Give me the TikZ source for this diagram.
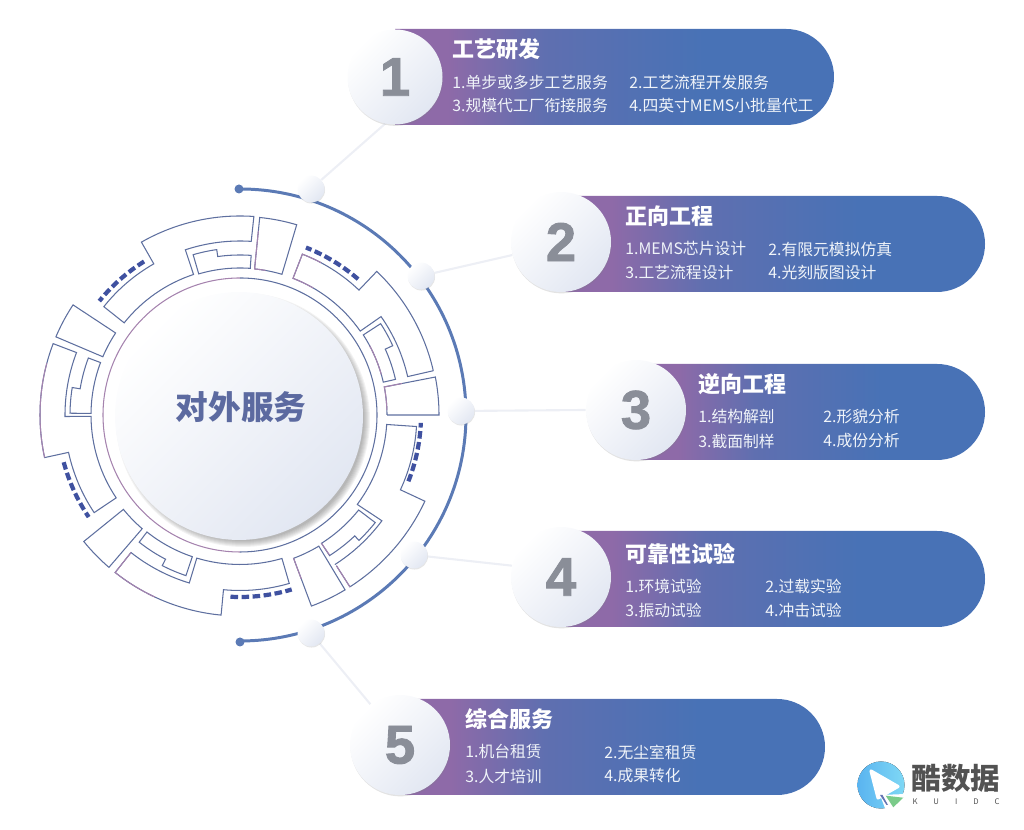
\documentclass[tikz,border=0pt]{standalone}
\usepackage{fontspec}
\setmainfont{Noto Sans CJK SC}
\newfontfamily\numfont[BoldFeatures={FakeBold=1.6}]{Liberation Sans}
\usetikzlibrary{backgrounds,shadows}
\definecolor{ringblue}{HTML}{5E6F9F}
\definecolor{ringpurple}{HTML}{A583AE}
\definecolor{dashblue}{HTML}{3F51A0}
\definecolor{arcblue}{HTML}{5B7AB5}
\definecolor{linegray}{HTML}{EDEFF5}
\definecolor{hubtext}{HTML}{5C6AA0}
\definecolor{numgray}{HTML}{8A8E98}
\definecolor{pillpurple}{HTML}{8E6AA8}
\definecolor{pillmid}{HTML}{5F6FB0}
\definecolor{pillblue}{HTML}{4772B6}
\definecolor{softblue}{HTML}{E2E7F2}
\definecolor{logoleft}{HTML}{5AB4F0}
\definecolor{logoright}{HTML}{7FD8F5}
\definecolor{logogreen}{HTML}{7BCB8A}
\pgfdeclarehorizontalshading{barshade}{100bp}{color(0bp)=(pillpurple); color(31bp)=(pillpurple); color(42bp)=(pillmid); color(60bp)=(pillblue!95!pillmid); color(100bp)=(pillblue)}
\newcommand{\ringarc}[3]{arc[start angle=#1,end angle=#2,radius=#3]}
% a bar, square on the left and round on the right: left, right, bottom
\newcommand{\drawbar}[3]{\shade[shading=barshade] (#1,#3) -- ({#2-48},#3) arc[start angle=-90,end angle=90,radius=48] -- (#1,{#3+96}) -- cycle;}
\tikzset{
  ringseg/.style={draw=ringblue,line width=.6pt,line join=miter},
  ringtint/.style={draw=ringpurple,line width=.6pt},
  ringdash/.style={draw=dashblue,line width=2.4pt,dash pattern=on 4.3pt off 2pt},
  numdisc/.style={circle,inner sep=0pt,minimum size=#1*0.02cm,top color=white,bottom color=softblue,shading angle=45,
    text=numgray,font=\numfont\fontsize{31}{31}\selectfont\bfseries,drop shadow={shadow xshift=.3pt,shadow yshift=-.8pt,opacity=.22}},
  smalldisc/.style={circle,inner sep=0pt,minimum size=.54cm,top color=white,bottom color=softblue,shading angle=45,
    drop shadow={shadow xshift=.3pt,shadow yshift=-.6pt,opacity=.2}},
  pilltitle/.style={anchor=west,inner sep=0pt,text=white,font=\fontsize{12.5}{12.5}\selectfont\bfseries},
  pillitem/.style={anchor=west,inner sep=0pt,text=white!92!pillblue,font=\fontsize{9}{9}\selectfont},
}
\begin{document}
\begin{tikzpicture}[x=0.02cm,y=0.02cm]
    \useasboundingbox (0,0) rectangle (1024,830);
    % soft shadow below the hub
    \foreach \r in {1,...,7}
        \fill[black!70,opacity=.07] (243,410) circle ({120+\r});
    \node[circle,inner sep=0pt,minimum size=4.96cm,top color=white,bottom color=softblue,shading angle=45] (hub) at (239,414) {};
    \node[inner sep=0pt,text=hubtext,font=\fontsize{18.6}{18.6}\selectfont\bfseries] (hubname) at (241,423) {对外服务};
    % the ring pieces
    \begin{scope}[shift={(240,415)}]
        \draw[ringpurple,line width=.6pt] (90:137) \ringarc{90}{270}{137};
        \draw[ringblue,line width=.6pt] (-90:137) \ringarc{-90}{90}{137};
        \draw[ringseg] (86:199) \ringarc{86}{119.7}{199} -- (119.7:174) \ringarc{119.7}{141.5}{174} -- (141.5:148)
            \ringarc{141.5}{108.3}{148} -- (108.3:174) \ringarc{108.3}{86.3}{174} -- cycle;
        \draw[ringseg] (86:147) \ringarc{86}{106.3}{147} -- (106.3:167) \ringarc{106.3}{98}{167} -- (98:160) \ringarc{98}{86}{160} -- cycle;
        \draw[ringseg] (146.6:200) \ringarc{146.6}{157}{200} -- (157:149) \ringarc{157}{146.6}{149} -- cycle;
        \draw[ringseg] (159.1:200) \ringarc{159.1}{192.3}{200} -- (192.3:175.5) \ringarc{192.3}{213.8}{175.5} -- (213.8:149)
            \ringarc{213.8}{180.5}{149} -- (180.5:175) \ringarc{180.5}{159.1}{175} -- cycle;
        \draw[ringseg] (159.4:149) \ringarc{159.4}{179.4}{149} -- (179.4:170) \ringarc{179.4}{170.7}{170} -- (170.7:162) \ringarc{170.7}{159.4}{162} -- cycle;
        \draw[ringseg] (219:150) \ringarc{219}{229.3}{150} -- (229.3:201) \ringarc{229.3}{219}{201} -- cycle;
        \draw[ringseg] (231.6:175.5) -- (231.6:201) \ringarc{231.6}{264.6}{201} -- (264.6:175.5) \ringarc{264.6}{286.3}{175.5} -- (286.3:149.5)
            \ringarc{286.3}{253.2}{149.5} -- (253.2:175.5) \ringarc{253.2}{231.6}{175.5} -- cycle;
        \draw[ringseg] (231.5:149.5) \ringarc{231.5}{251.4}{149.5} -- (251.4:169.5) \ringarc{251.4}{242.7}{169.5} -- (242.7:162.3) \ringarc{242.7}{231.6}{162.3} -- cycle;
        \draw[ringseg] (290.5:153) \ringarc{290.5}{301}{153} -- (301:204) \ringarc{301}{290.5}{204} -- cycle;
        \draw[ringseg] (302.4:152) \ringarc{302.4}{321.3}{152} -- (321.5:172.8) \ringarc{321.5}{313.5}{172.8} -- (313.5:166.7) \ringarc{313.5}{302.5}{166.7} -- cycle;
        \draw[ringseg] (302.6:179) -- (302.6:204) \ringarc{302.6}{335}{204} -- (335:177) \ringarc{335}{356.5}{175} -- (356.3:147) \ringarc{356.3}{323.3}{150} -- (323.3:177) \ringarc{323.3}{302.6}{179};
        \draw[ringseg] (0:147) -- (0:199) \ringarc{0}{11}{199} -- (11:147) \ringarc{11}{0}{147};
        \draw[ringseg] (12.9:198.3) -- (12.9:172) \ringarc{12.9}{34.9}{172} -- (34.9:146.6) \ringarc{34.9}{68.8}{146.6} -- (68.8:172.5) \ringarc{68.8}{46.4}{172.5} -- (46.4:198.3) \ringarc{46.4}{12.9}{198.3};
        \draw[ringseg] (12.9:147) \ringarc{12.9}{33}{147} -- (33:167.7) \ringarc{33}{24.4}{167.7} -- (24.4:159.5) \ringarc{24.4}{12.9}{159.5} -- cycle;
        \draw[ringseg] (73.4:198.5) \ringarc{73.4}{84.3}{198.5} -- (84.3:146.8) \ringarc{84.3}{73.4}{146.8} -- cycle;
        % the purple ends of the pieces
        \draw[ringtint] (165:200) \ringarc{165}{192.3}{200};
        \draw[ringtint] (84.3:185) -- (84.3:146.8) \ringarc{84.3}{80}{146.8};
        \draw[ringtint] (60:146.6) \ringarc{60}{68.8}{146.6} -- (68.8:172.5) \ringarc{68.8}{62}{172.5};
        \draw[ringtint] (231.6:175.5) -- (231.6:201) \ringarc{231.6}{245}{201};
        \draw[ringtint] (290.5:153) -- (290.5:175);
        \draw[ringtint] (302.4:152) -- (302.6:166);
        \draw[ringtint] (302.6:179) -- (302.6:204);
        \draw[ringtint] (2:147) \ringarc{2}{11}{147} -- (11:165);
        \draw[ringtint] (16:147) \ringarc{16}{28}{147};
        % the dashed marks
        \draw[ringdash] (122:181) \ringarc{122}{141}{181};
        \draw[ringdash] (195:182.5) \ringarc{195}{214}{182.5};
        \draw[ringdash] (267:182) \ringarc{267}{286.5}{182};
        \draw[ringdash] (338.5:181) \ringarc{338.5}{357.5}{181};
        \draw[ringdash] (49:180) \ringarc{49}{68.5}{180};
        % the big arc
        \draw[arcblue,line width=1.7pt] (90:226) \ringarc{90}{-90}{226};
    \end{scope}
    \node[circle,fill=arcblue,inner sep=0pt,minimum size=.18cm] (arcstart) at (239,641) {};
    \node[circle,fill=arcblue,inner sep=0pt,minimum size=.18cm] (arcend) at (240,188) {};
    % the bars
    \drawbar{395}{834}{705}
    \drawbar{561}{985}{538}
    \drawbar{636}{985}{370}
    \drawbar{561}{985}{203}
    \drawbar{400}{825}{35}
    % the numbers
    \node[numdisc=95] (num1) at (395,753) {1};
    \node[numdisc=100] (num2) at (561,588) {2};
    \node[numdisc=100] (num3) at (636,420) {3};
    \node[numdisc=100] (num4) at (561,253) {4};
    \node[numdisc=100] (num5) at (400,85) {5};
    % the small discs on the arc
    \node[smalldisc] (dot1) at (311,641) {};
    \node[smalldisc] (dot2) at (421,554) {};
    \node[smalldisc] (dot3) at (461,419) {};
    \node[smalldisc] (dot4) at (414,275) {};
    \node[smalldisc] (dot5) at (311,197) {};
    % the links
    \begin{scope}[on background layer]
        \draw[linegray,line width=1.2pt] (dot1) -- (num1.-102);
        \draw[linegray,line width=1.2pt] (dot2) -- (num2.195);
        \draw[linegray,line width=1.2pt] (dot3) -- (num3.180);
        \draw[linegray,line width=1.2pt] (dot4) -- (num4.167);
        \draw[linegray,line width=1.2pt] (dot5) -- (num5.126);
    \end{scope}
    % the texts
    \node[pilltitle] (title1) at (452,781) {工艺研发};
    \node[pillitem] (item1a) at (452,747) {1.单步或多步工艺服务};
    \node[pillitem] (item1b) at (629,747) {2.工艺流程开发服务};
    \node[pillitem] (item1c) at (452,724) {3.规模代工厂衔接服务};
    \node[pillitem] (item1d) at (629,724) {4.四英寸MEMS小批量代工};
    \node[pilltitle] (title2) at (625,614) {正向工程};
    \node[pillitem] (item2a) at (625,581) {1.MEMS芯片设计};
    \node[pillitem] (item2b) at (768,581) {2.有限元模拟仿真};
    \node[pillitem] (item2c) at (625,557) {3.工艺流程设计};
    \node[pillitem] (item2d) at (768,557) {4.光刻版图设计};
    \node[pilltitle] (title3) at (698,446) {逆向工程};
    \node[pillitem] (item3a) at (698,413) {1.结构解剖};
    \node[pillitem] (item3b) at (823,413) {2.形貌分析};
    \node[pillitem] (item3c) at (698,389) {3.截面制样};
    \node[pillitem] (item3d) at (823,389) {4.成份分析};
    \node[pilltitle] (title4) at (625,276) {可靠性试验};
    \node[pillitem] (item4a) at (625,244) {1.环境试验};
    \node[pillitem] (item4b) at (765,244) {2.过载实验};
    \node[pillitem] (item4c) at (625,220) {3.振动试验};
    \node[pillitem] (item4d) at (765,220) {4.冲击试验};
    \node[pilltitle] (title5) at (465,111) {综合服务};
    \node[pillitem] (item5a) at (465,78) {1.机台租赁};
    \node[pillitem] (item5b) at (604,78) {2.无尘室租赁};
    \node[pillitem] (item5c) at (465,54) {3.人才培训};
    \node[pillitem] (item5d) at (604,54) {4.成果转化};
    % the logo
    \fill[left color=logoleft,right color=logoright] (881,45) circle (23.5);
    \fill[white,line join=round,draw=white,line width=1.8pt] (871,59) -- (898,43.5) -- (878,32) -- cycle;
    \fill[white] (880,35) -- (906,36) -- (906,14) -- (888,14) -- cycle;
    \fill[logogreen] (885.7,34.3) -- (903.3,32.3) -- (893.3,22.7) -- cycle;
    \fill[dashblue!80] (880,35) -- (882.5,35) -- (888,25) -- (886.5,25) -- cycle;
    \node[inner sep=0pt,text=black!68,font=\fontsize{16.8}{16.8}\selectfont\bfseries] (logotext) at (956,52) {酷数据};
    \node[inner sep=0pt,text=black!68,font=\fontsize{4.4}{4.4}\selectfont] (logosub) at (956,28) {\makebox[1.74cm][s]{K\hfill U\hfill I\hfill D\hfill C}};
\end{tikzpicture}
\end{document}
